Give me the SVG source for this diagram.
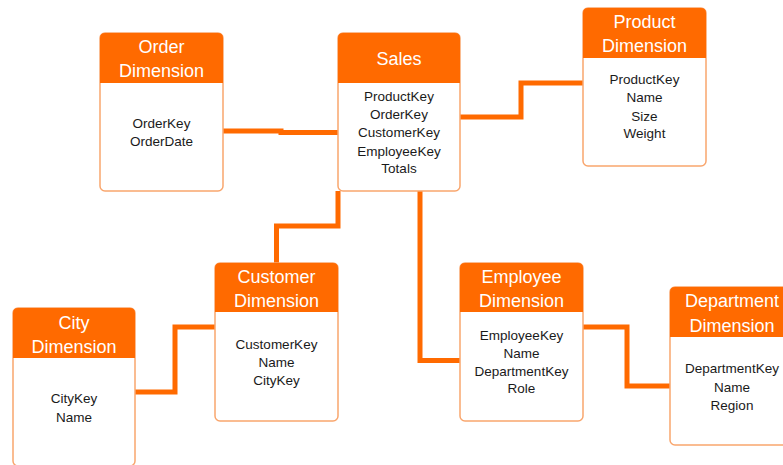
<svg xmlns="http://www.w3.org/2000/svg" width="783" height="465" viewBox="0 0 783 465">
  <style>
    .box { fill: #ffffff; stroke: #F9A66E; stroke-width: 1.5; }
    .head { fill: #FF6A00; }
    .title { font-family: "Liberation Sans", Arial, sans-serif; font-size: 18px; fill: #ffffff; text-anchor: middle; }
    .field { font-family: "Liberation Sans", Arial, sans-serif; font-size: 13.5px; fill: #1a1a1a; text-anchor: middle; }
    .link { fill: none; stroke: #FF6A00; stroke-width: 5; stroke-linejoin: miter; stroke-linecap: butt; }
  </style>

  <!-- connectors -->
  <g id="connectors">
    <path class="link" d="M223,131 H281 V132.5 H338"/>
    <path class="link" d="M460,117 H521 V83 H583"/>
    <path class="link" d="M338,191 V226 H276.5 V263"/>
    <path class="link" d="M420,191 V360.5 H460"/>
    <path class="link" d="M135,392 H175 V327 H215"/>
    <path class="link" d="M583,327 H627 V386 H670"/>
  </g>

  <!-- Order Dimension -->
  <g id="order">
    <rect class="box" x="100" y="33" width="123" height="158" rx="5"/>
    <path class="head" d="M100,83 V38 Q100,33 105,33 H218 Q223,33 223,38 V83 Z"/>
    <text class="title" x="161.5" y="52.5">Order</text>
    <text class="title" x="161.5" y="76.5">Dimension</text>
    <text class="field" x="161.5" y="128">OrderKey</text>
    <text class="field" x="161.5" y="146">OrderDate</text>
  </g>

  <!-- Sales -->
  <g id="sales">
    <rect class="box" x="338" y="33" width="122" height="158" rx="5"/>
    <path class="head" d="M338,83 V38 Q338,33 343,33 H455 Q460,33 460,38 V83 Z"/>
    <text class="title" x="399" y="64.5">Sales</text>
    <text class="field" x="399" y="101">ProductKey</text>
    <text class="field" x="399" y="119">OrderKey</text>
    <text class="field" x="399" y="137">CustomerKey</text>
    <text class="field" x="399" y="156">EmployeeKey</text>
    <text class="field" x="399" y="173">Totals</text>
  </g>

  <!-- Product Dimension -->
  <g id="product">
    <rect class="box" x="583" y="8" width="123" height="158" rx="5"/>
    <path class="head" d="M583,58 V13 Q583,8 588,8 H701 Q706,8 706,13 V58 Z"/>
    <text class="title" x="644.5" y="27.5">Product</text>
    <text class="title" x="644.5" y="51.5">Dimension</text>
    <text class="field" x="644.5" y="84">ProductKey</text>
    <text class="field" x="644.5" y="102">Name</text>
    <text class="field" x="644.5" y="121">Size</text>
    <text class="field" x="644.5" y="138">Weight</text>
  </g>

  <!-- Customer Dimension -->
  <g id="customer">
    <rect class="box" x="215" y="263" width="123" height="158" rx="5"/>
    <path class="head" d="M215,312 V268 Q215,263 220,263 H333 Q338,263 338,268 V312 Z"/>
    <text class="title" x="276.5" y="282.5">Customer</text>
    <text class="title" x="276.5" y="306.5">Dimension</text>
    <text class="field" x="276.5" y="349">CustomerKey</text>
    <text class="field" x="276.5" y="367">Name</text>
    <text class="field" x="276.5" y="385">CityKey</text>
  </g>

  <!-- City Dimension -->
  <g id="city">
    <rect class="box" x="13" y="308" width="122" height="158" rx="5"/>
    <path class="head" d="M13,358 V313 Q13,308 18,308 H130 Q135,308 135,313 V358 Z"/>
    <text class="title" x="74" y="328.5">City</text>
    <text class="title" x="74" y="352.5">Dimension</text>
    <text class="field" x="74" y="403">CityKey</text>
    <text class="field" x="74" y="422">Name</text>
  </g>

  <!-- Employee Dimension -->
  <g id="employee">
    <rect class="box" x="460" y="263" width="123" height="158" rx="5"/>
    <path class="head" d="M460,312 V268 Q460,263 465,263 H578 Q583,263 583,268 V312 Z"/>
    <text class="title" x="521.5" y="282.5">Employee</text>
    <text class="title" x="521.5" y="306.5">Dimension</text>
    <text class="field" x="521.5" y="340">EmployeeKey</text>
    <text class="field" x="521.5" y="358">Name</text>
    <text class="field" x="521.5" y="376">DepartmentKey</text>
    <text class="field" x="521.5" y="393">Role</text>
  </g>

  <!-- Department Dimension -->
  <g id="department">
    <rect class="box" x="670" y="287" width="124" height="158" rx="5"/>
    <path class="head" d="M670,337 V292 Q670,287 675,287 H789 Q794,287 794,292 V337 Z"/>
    <text class="title" x="732" y="306.5">Department</text>
    <text class="title" x="732" y="331.5">Dimension</text>
    <text class="field" x="732" y="373">DepartmentKey</text>
    <text class="field" x="732" y="392">Name</text>
    <text class="field" x="732" y="410">Region</text>
  </g>
</svg>
